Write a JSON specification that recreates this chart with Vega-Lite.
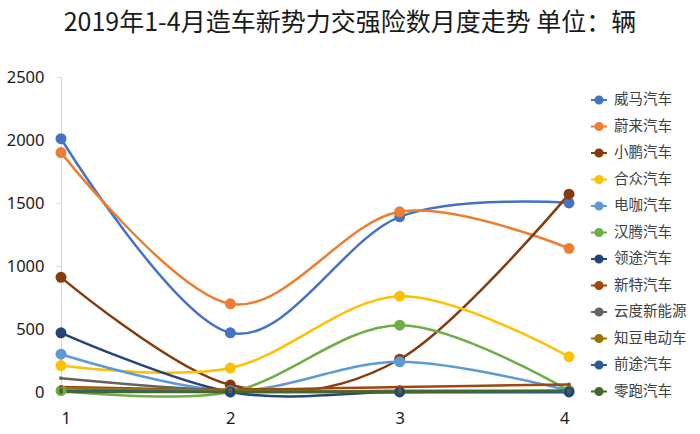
{
  "$schema": "https://vega.github.io/schema/vega-lite/v6.json",
  "autosize": "none",
  "width": 508,
  "height": 315,
  "padding": {"left": 61, "top": 77, "right": 131, "bottom": 42},
  "background": "white",
  "title": {
    "text": "2019年1-4月造车新势力交强险数月度走势 单位：辆",
    "anchor": "middle",
    "frame": "group",
    "dx": 35,
    "offset": 33,
    "fontSize": 25,
    "font": "Noto Sans CJK SC",
    "fontWeight": "normal",
    "color": "#1a1a1a"
  },
  "config": {
    "view": {"stroke": null},
    "axis": {"labelFont": "Noto Sans", "labelFontSize": 16.5, "labelColor": "#1a1a1a", "domainColor": "#d9d9d9", "tickColor": "#d9d9d9", "grid": false, "title": null}
  },
  "data": {
    "values": [
      {"m": 1, "brand": "威马汽车", "v": 2010}, {"m": 2, "brand": "威马汽车", "v": 470}, {"m": 3, "brand": "威马汽车", "v": 1390}, {"m": 4, "brand": "威马汽车", "v": 1500},
      {"m": 1, "brand": "蔚来汽车", "v": 1900}, {"m": 2, "brand": "蔚来汽车", "v": 700}, {"m": 3, "brand": "蔚来汽车", "v": 1430}, {"m": 4, "brand": "蔚来汽车", "v": 1140},
      {"m": 1, "brand": "小鹏汽车", "v": 910}, {"m": 2, "brand": "小鹏汽车", "v": 55}, {"m": 3, "brand": "小鹏汽车", "v": 260}, {"m": 4, "brand": "小鹏汽车", "v": 1570},
      {"m": 1, "brand": "合众汽车", "v": 210}, {"m": 2, "brand": "合众汽车", "v": 190}, {"m": 3, "brand": "合众汽车", "v": 760}, {"m": 4, "brand": "合众汽车", "v": 280},
      {"m": 1, "brand": "电咖汽车", "v": 300}, {"m": 2, "brand": "电咖汽车", "v": 10}, {"m": 3, "brand": "电咖汽车", "v": 240}, {"m": 4, "brand": "电咖汽车", "v": 10},
      {"m": 1, "brand": "汉腾汽车", "v": 10}, {"m": 2, "brand": "汉腾汽车", "v": 0}, {"m": 3, "brand": "汉腾汽车", "v": 530}, {"m": 4, "brand": "汉腾汽车", "v": 10},
      {"m": 1, "brand": "领途汽车", "v": 470}, {"m": 2, "brand": "领途汽车", "v": 0}, {"m": 3, "brand": "领途汽车", "v": 0}, {"m": 4, "brand": "领途汽车", "v": 0},
      {"m": 1, "brand": "新特汽车", "v": 40}, {"m": 2, "brand": "新特汽车", "v": 20}, {"m": 3, "brand": "新特汽车", "v": 40}, {"m": 4, "brand": "新特汽车", "v": 60},
      {"m": 1, "brand": "云度新能源", "v": 110}, {"m": 2, "brand": "云度新能源", "v": 10}, {"m": 3, "brand": "云度新能源", "v": 10}, {"m": 4, "brand": "云度新能源", "v": 10},
      {"m": 1, "brand": "知豆电动车", "v": 30}, {"m": 2, "brand": "知豆电动车", "v": 10}, {"m": 3, "brand": "知豆电动车", "v": 0}, {"m": 4, "brand": "知豆电动车", "v": 0},
      {"m": 1, "brand": "前途汽车", "v": 10}, {"m": 2, "brand": "前途汽车", "v": 0}, {"m": 3, "brand": "前途汽车", "v": 0}, {"m": 4, "brand": "前途汽车", "v": 0},
      {"m": 1, "brand": "零跑汽车", "v": 0}, {"m": 2, "brand": "零跑汽车", "v": 0}, {"m": 3, "brand": "零跑汽车", "v": 0}, {"m": 4, "brand": "零跑汽车", "v": 10}
    ]
  },
  "encoding": {
    "x": {"field": "m", "type": "quantitative", "scale": {"domain": [1, 4], "nice": false, "zero": false},
          "axis": {"values": [1, 2, 3, 4], "ticks": false, "labelPadding": 18, "format": "d"}},
    "y": {"field": "v", "type": "quantitative", "scale": {"domain": [0, 2500], "nice": false},
          "axis": {"values": [0, 500, 1000, 1500, 2000, 2500], "tickSize": 5, "labelPadding": 12, "format": "d"}},
    "color": {
      "field": "brand", "type": "nominal",
      "scale": {
        "domain": ["威马汽车", "蔚来汽车", "小鹏汽车", "合众汽车", "电咖汽车", "汉腾汽车", "领途汽车", "新特汽车", "云度新能源", "知豆电动车", "前途汽车", "零跑汽车"],
        "range": ["#4472C4", "#ED7D31", "#843C0C", "#FFC000", "#5B9BD5", "#70AD47", "#264478", "#9E480E", "#636363", "#997300", "#255E91", "#43682B"]
      },
      "legend": {
        "title": null,
        "orient": "none",
        "legendX": 529,
        "legendY": 14,
        "labelFont": "Noto Sans CJK SC",
        "labelFontSize": 14.5,
        "labelColor": "#404040",
        "symbolType": "M-1,0H-0.45M0.45,0H1M0.45,0A0.45,0.45 0 1,1 -0.45,0A0.45,0.45 0 1,1 0.45,0",
        "symbolSize": 256,
        "symbolStrokeWidth": 2,
        "rowPadding": 9.5,
        "labelOffset": 6,
        "encode": {
          "symbols": {
            "update": {
              "fill": {"scale": "color", "field": "value"},
              "stroke": {"scale": "color", "field": "value"},
              "strokeWidth": {"value": 2},
              "fillOpacity": {"value": 1},
              "strokeOpacity": {"value": 1}
            }
          }
        }
      }
    }
  },
  "layer": [
    {"mark": {"type": "line", "interpolate": "cardinal", "strokeWidth": 2.5}},
    {"mark": {"type": "point", "filled": true, "opacity": 1},
     "encoding": {
       "size": {"condition": {"test": "indexof(['新特汽车','云度新能源','知豆电动车','前途汽车','零跑汽车'], datum.brand) >= 0", "value": 15}, "value": 120}
     }}
  ]
}
